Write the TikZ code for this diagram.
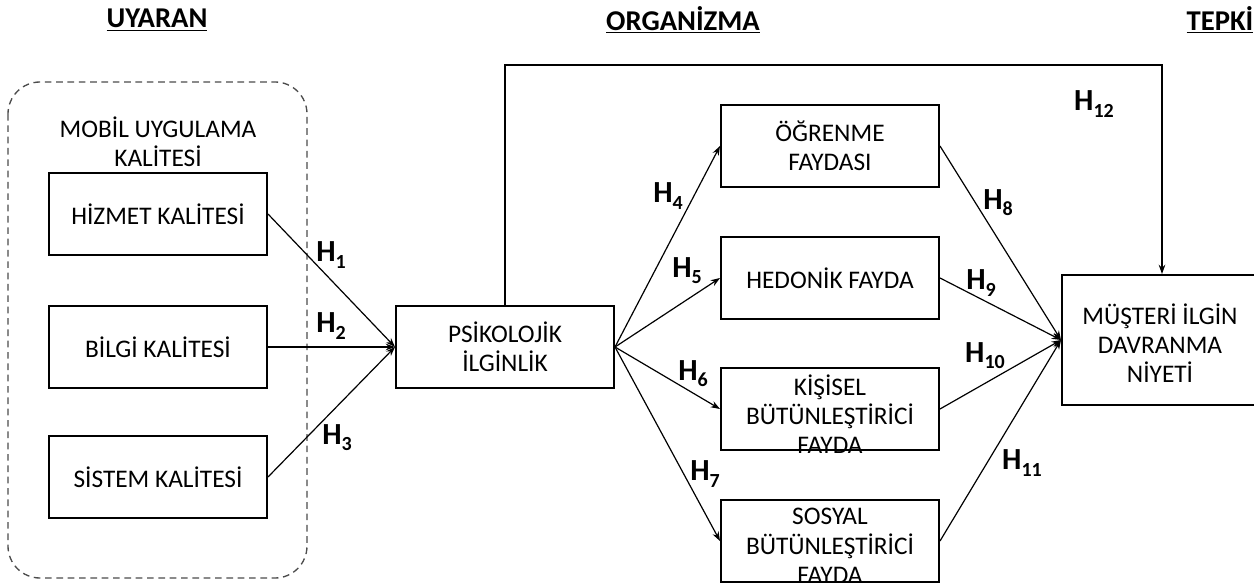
\documentclass[tikz,border=0pt]{standalone}
\usepackage{fontspec}
\setmainfont{Carlito}
\usetikzlibrary{arrows.meta}
\newcommand{\bodyfont}{\fontsize{19}{22}\selectfont}
\newcommand{\hsub}[1]{H\raisebox{-0.42ex}{\fontsize{15}{15}\selectfont #1}}
\tikzset{
  box/.style={draw, line width=1.5pt, minimum width=163.5pt, minimum height=61.5pt, inner sep=0pt, align=center, font=\bodyfont},
  txt/.style={align=center, font=\bodyfont, inner sep=0pt},
  hlab/.style={font=\bfseries\fontsize{23}{25}\selectfont, inner sep=0pt},
  ttl/.style={font=\bfseries\fontsize{21.5}{24}\selectfont, inner sep=0pt},
  conn/.style={line width=0.9pt, -{Stealth[length=7pt,width=5pt]}},
  group/.style={draw=black!70, dashed, dash pattern=on 5pt off 3.5pt, line width=1pt, rounded corners=24pt}
}
\begin{document}
\begin{tikzpicture}[x=0.75pt,y=-0.75pt]
\useasboundingbox (0,0) rectangle (1254,588);
% titles
\node[ttl] (t1) at (157,20) {\underline{UYARAN}};
\node[ttl] (t2) at (683,20) {\underline{ORGANİZMA}};
\node[ttl] (t3) at (1220,20) {\underline{TEPKİ}};
% group
\draw[group] (8,82) rectangle (307,578);
\node[txt] (mob) at (158,142) {MOBİL UYGULAMA\\KALİTESİ};
% boxes
\node[box] (hiz) at (158,214) {HİZMET KALİTESİ};
\node[box] (bil) at (158,347) {BİLGİ KALİTESİ};
\node[box] (sis) at (158,477) {SİSTEM KALİTESİ};
\node[box] (psi) at (505,347) {PSİKOLOJİK\\İLGİNLİK};
\node[box] (ogr) at (830,146) {ÖĞRENME\\FAYDASI};
\node[box] (hed) at (830,278) {HEDONİK FAYDA};
\node[box] (kis) at (830,409) {};
\node[txt] (kist) at (830,414) {KİŞİSEL\\BÜTÜNLEŞTİRİCİ\\FAYDA};
\node[box] (sos) at (830,541) {};
\node[txt] (sost) at (830,546) {SOSYAL\\BÜTÜNLEŞTİRİCİ\\FAYDA};
\node[box, minimum width=150pt, minimum height=97.5pt] (mus) at (1162,340) {};
\node[txt] (must) at (1160,343) {MÜŞTERİ İLGİN\\DAVRANMA\\NİYETİ};
% connectors
\draw[conn] (hiz.east) -- (psi.west);
\draw[conn] (bil.east) -- (psi.west);
\draw[conn] (sis.east) -- (psi.west);
\draw[conn] (psi.east) -- (ogr.west);
\draw[conn] (psi.east) -- (hed.west);
\draw[conn] (psi.east) -- (kis.west);
\draw[conn] (psi.east) -- (sos.west);
\draw[conn] (ogr.east) -- (mus.west);
\draw[conn] (hed.east) -- (mus.west);
\draw[conn] (kis.east) -- (mus.west);
\draw[conn] (sos.east) -- (mus.west);
\coordinate (c1) at (505,65);
\coordinate (c2) at (1162,65);
\draw[conn] (psi.north) -- (c1) -- (c2) -- (mus.north);
% labels
\node[hlab] (h1) at (331,255) {\hsub{1}};
\node[hlab] (h2) at (331,326) {\hsub{2}};
\node[hlab] (h3) at (337,438) {\hsub{3}};
\node[hlab] (h4) at (668,196) {\hsub{4}};
\node[hlab] (h5) at (687,271) {\hsub{5}};
\node[hlab] (h6) at (693,374) {\hsub{6}};
\node[hlab] (h7) at (705,474) {\hsub{7}};
\node[hlab] (h8) at (998,203) {\hsub{8}};
\node[hlab] (h9) at (981,283) {\hsub{9}};
\node[hlab] (h10) at (985,356) {\hsub{10}};
\node[hlab] (h11) at (1022,463) {\hsub{11}};
\node[hlab] (h12) at (1094,104) {\hsub{12}};
\end{tikzpicture}
\end{document}
